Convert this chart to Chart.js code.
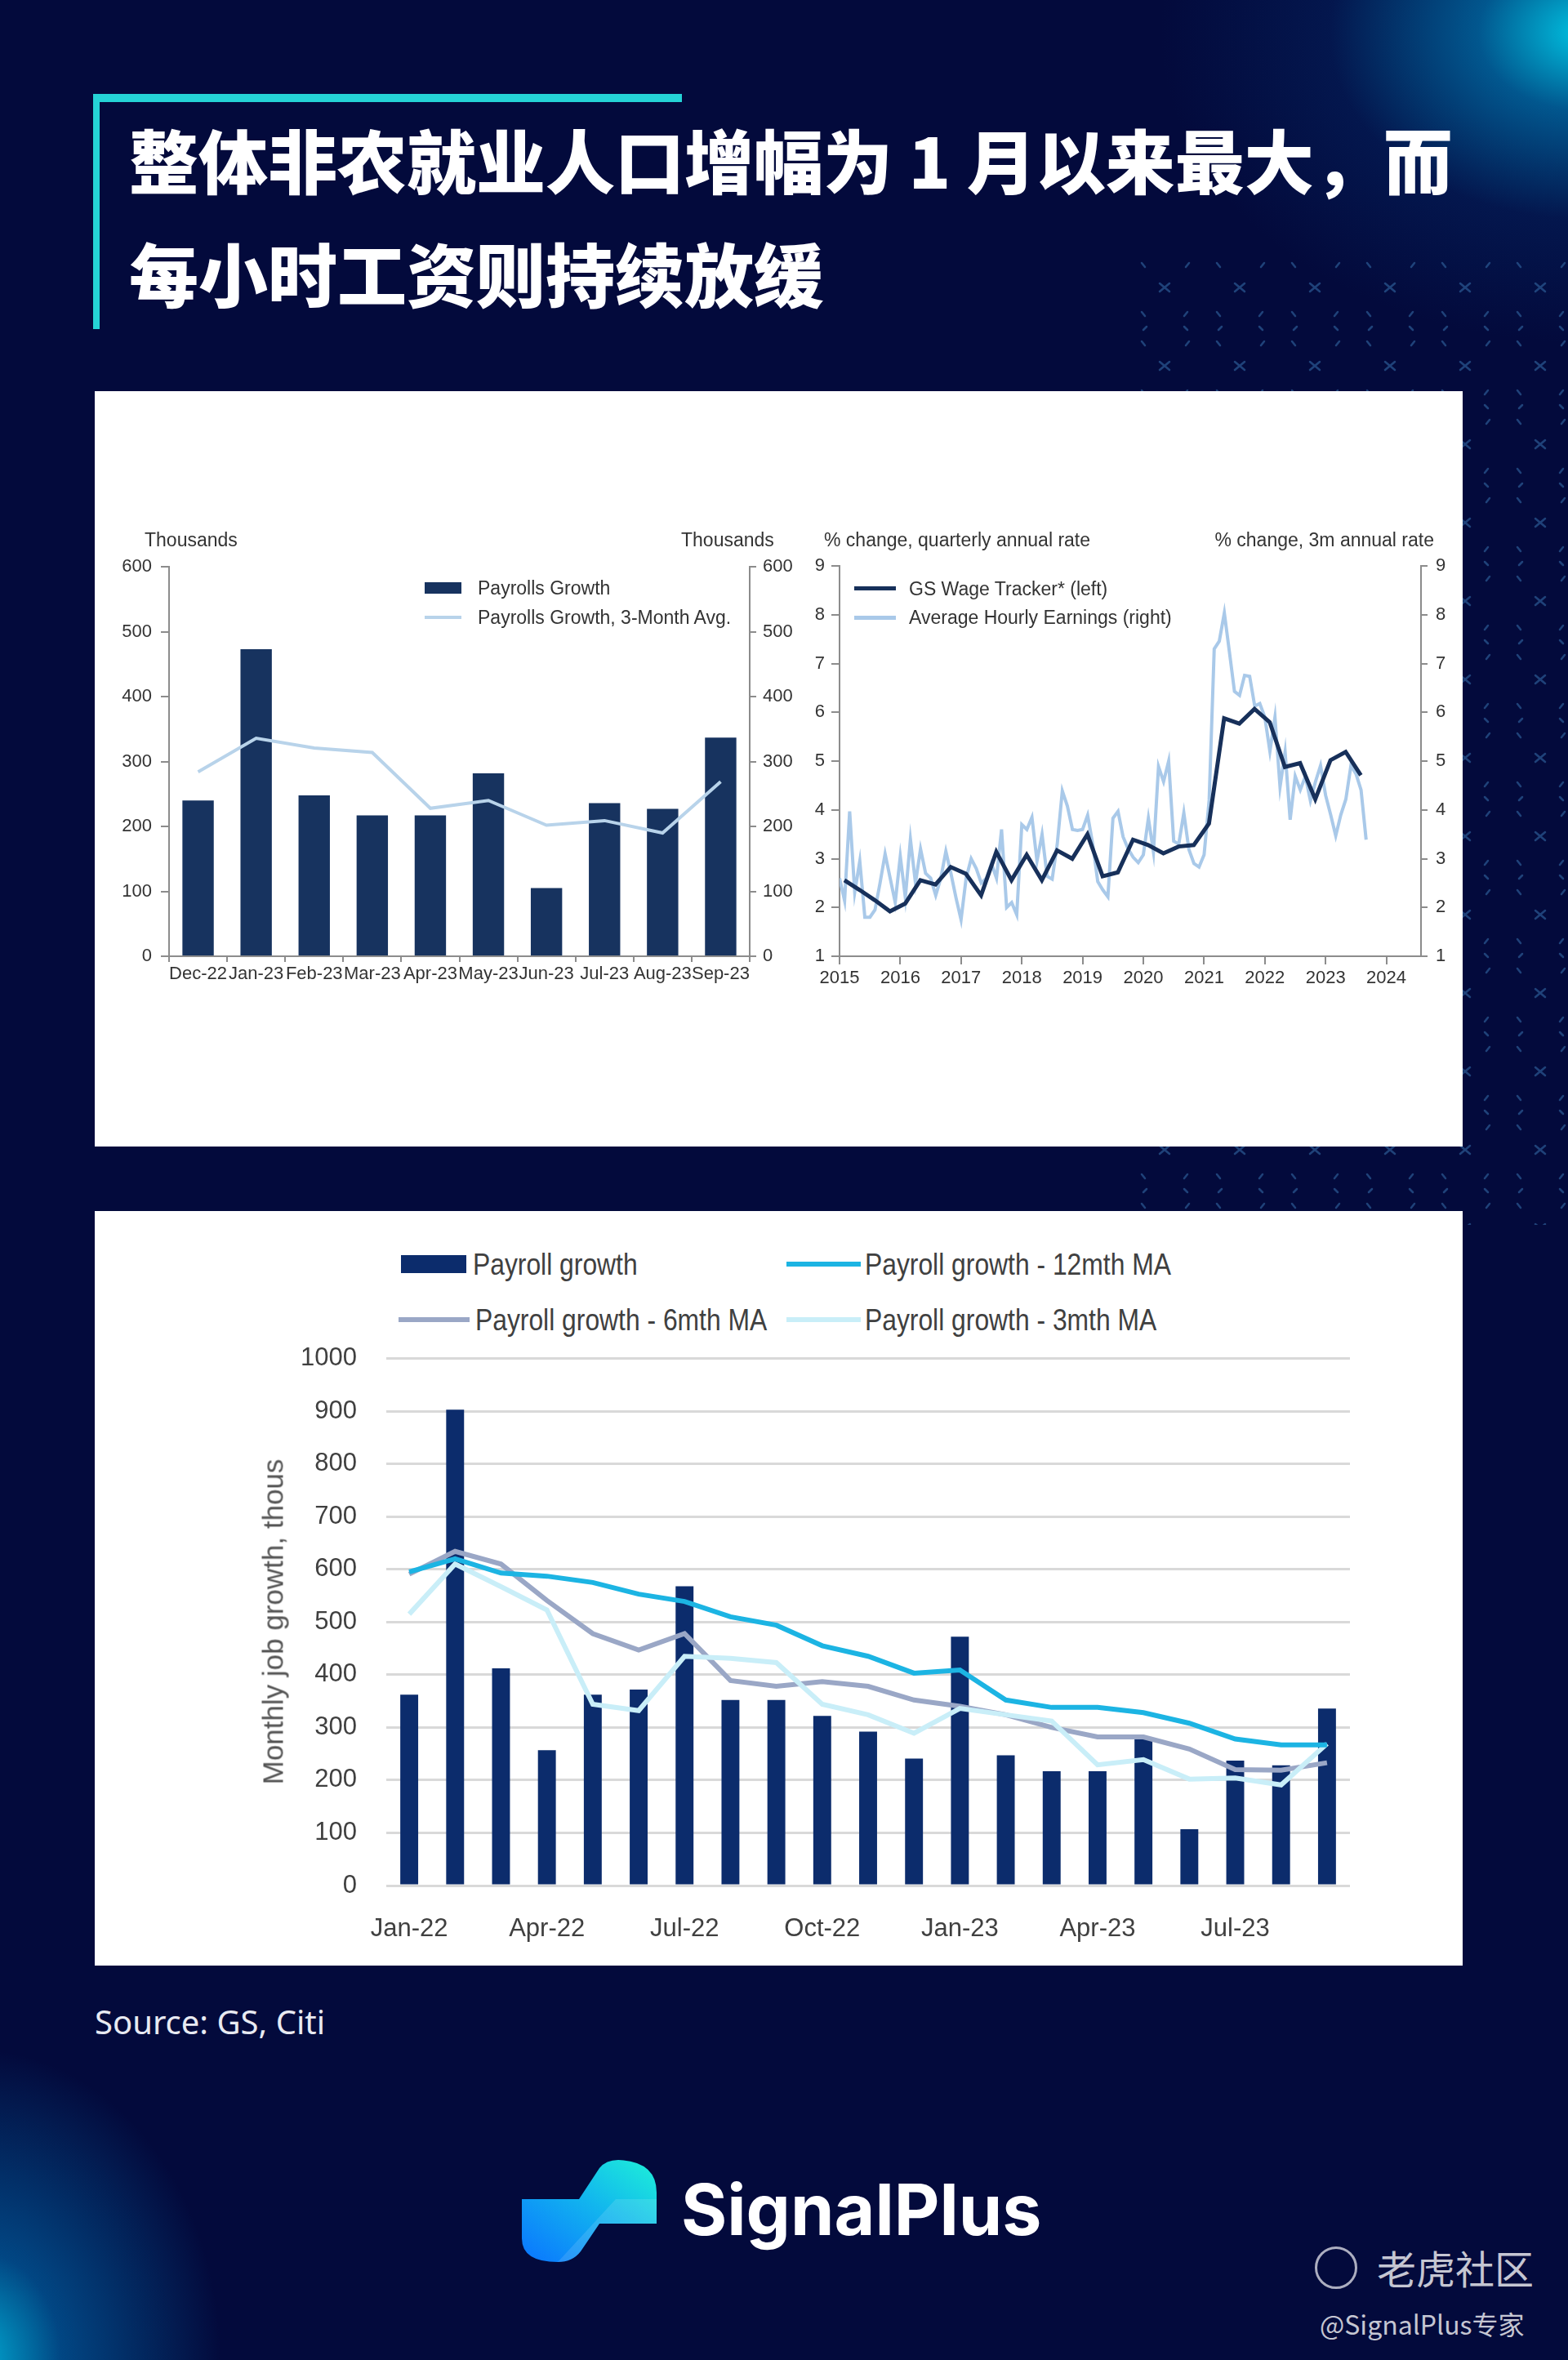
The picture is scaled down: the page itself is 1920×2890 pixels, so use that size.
<!DOCTYPE html>
<html>
<head>
<meta charset="utf-8">
<script src="https://cdn.jsdelivr.net/npm/chart.js"></script>
<style>
  html, body { margin: 0; padding: 0; }
  body {
    width: 1920px; height: 2890px; overflow: hidden; position: relative;
    background: #030a3c;
    font-family: "Liberation Sans", Arial, sans-serif;
  }
  .abs { position: absolute; white-space: nowrap; }
  .glow-tr {
    left: 1300px; top: 0; width: 620px; height: 700px;
    background: radial-gradient(ellipse 520px 380px at 640px 40px, rgba(0,205,235,0.95) 0%, rgba(0,150,210,0.55) 25%, rgba(5,60,130,0.25) 60%, rgba(3,10,60,0) 100%);
  }
  .glow-bl {
    left: 0; top: 2450px; width: 500px; height: 440px;
    background: radial-gradient(ellipse 300px 380px at -30px 440px, rgba(0,180,220,0.95) 0%, rgba(0,120,190,0.55) 35%, rgba(3,10,60,0) 100%);
  }
  .pattern {
    left: 1380px; top: 320px; width: 540px; height: 1180px;
    background-image: url("data:image/svg+xml;utf8,<svg xmlns='http://www.w3.org/2000/svg' width='92' height='96'><g stroke='%232a5a94' stroke-width='2.5' stroke-linecap='round' opacity='0.7'><path d='M40 27 L52 37 M52 27 L40 37'/><path d='M18 2 L22 7 M72 7 L76 2 M18 62 L22 67 M70 67 L74 62 M20 84 L24 80 M70 80 L74 84'/></g></svg>");
  }
  .panel { background: #ffffff; }
  canvas { position: absolute; }
  .t1 { font-size: 23px; color: #333; line-height: 23px; }
  .leg1 { font-size: 23px; color: #333; line-height: 23px; }
  .leg3 { font-size: 37px; color: #404040; line-height: 37px; transform: scaleX(0.86); transform-origin: left center; }
  .title { font-family: 'Noto Sans CJK SC', sans-serif; font-weight: 900; font-size: 85px; line-height: 90px; color: #fff; }
</style>
</head>
<body>
<div class="abs glow-tr"></div>
<div class="abs glow-bl"></div>
<div class="abs pattern"></div>

<!-- title -->
<div class="abs" style="left:114px;top:115px;width:721px;height:10px;background:#25d3d6;"></div>
<div class="abs" style="left:114px;top:115px;width:8px;height:288px;background:#25d3d6;"></div>
<div class="abs title" style="left:158px;top:149px;">整体非农就业人口增幅为 1 月以来最大，而</div>
<div class="abs title" style="left:158px;top:288px;">每小时工资则持续放缓</div>

<!-- panel 1 -->
<div class="abs panel" style="left:116px;top:479px;width:1675px;height:925px;"></div>
<canvas id="payrollsChart" width="855" height="550" style="left:120px;top:670px;"></canvas>
<canvas id="wageChart" width="810" height="550" style="left:975px;top:670px;"></canvas>

<div class="abs t1" style="left:177px;top:650px;">Thousands</div>
<div class="abs t1" style="left:834px;top:650px;">Thousands</div>
<div class="abs t1" style="left:1009px;top:650px;">% change, quarterly annual rate</div>
<div class="abs t1" style="right:164px;top:650px;">% change, 3m annual rate</div>

<div class="abs" style="left:520px;top:713px;width:45px;height:14px;background:#17335f;"></div>
<div class="abs leg1" style="left:585px;top:709px;">Payrolls Growth</div>
<div class="abs" style="left:520px;top:754px;width:45px;height:4px;background:#b8d3ea;"></div>
<div class="abs leg1" style="left:585px;top:745px;">Payrolls Growth, 3-Month Avg.</div>

<div class="abs" style="left:1046px;top:718px;width:51px;height:5px;background:#17305a;"></div>
<div class="abs leg1" style="left:1113px;top:710px;">GS Wage Tracker* (left)</div>
<div class="abs" style="left:1046px;top:754px;width:51px;height:5px;background:#a9c9e9;"></div>
<div class="abs leg1" style="left:1113px;top:745px;">Average Hourly Earnings (right)</div>

<!-- panel 2 -->
<div class="abs panel" style="left:116px;top:1483px;width:1675px;height:924px;"></div>
<canvas id="jobsChart" width="1420" height="755" style="left:280px;top:1645px;"></canvas>

<div class="abs" style="left:491px;top:1537px;width:80px;height:22px;background:#0c2c6c;"></div>
<div class="abs leg3" style="left:579px;top:1530px;">Payroll growth</div>
<div class="abs" style="left:963px;top:1545px;width:91px;height:6px;background:#1cb4e3;"></div>
<div class="abs leg3" style="left:1059px;top:1530px;">Payroll growth - 12mth MA</div>
<div class="abs" style="left:488px;top:1613px;width:87px;height:6px;background:#9aa7c6;"></div>
<div class="abs leg3" style="left:582px;top:1598px;">Payroll growth - 6mth MA</div>
<div class="abs" style="left:963px;top:1613px;width:91px;height:6px;background:#c9eef8;"></div>
<div class="abs leg3" style="left:1059px;top:1598px;">Payroll growth - 3mth MA</div>

<div class="abs" style="left:334px;top:1986px;transform:translate(-50%,-50%) rotate(-90deg);color:#555;font-size:35px;line-height:35px;">Monthly job growth, thous</div>

<!-- footer -->
<div class="abs" style="left:116px;top:2455px;font-family:'Noto Sans',sans-serif;font-size:40px;line-height:42px;color:#e8eaf2;">Source: GS, Citi</div>

<svg class="abs" style="left:639px;top:2645px;" width="166" height="126" viewBox="0 0 166 126">
  <defs>
    <linearGradient id="lg1" x1="0" y1="1" x2="1" y2="0">
      <stop offset="0" stop-color="#0a74ff"/>
      <stop offset="0.55" stop-color="#12b6ee"/>
      <stop offset="1" stop-color="#1ef0d8"/>
    </linearGradient>
  </defs>
  <path d="M0 48 H70 L95 10 Q103 0 118 0 Q165 2 165 40 V78 H95 L72 112 Q62 125 44 125 Q0 125 0 96 Z" fill="url(#lg1)"/>
  <path d="M44 125 Q62 125 72 112 L95 78 H165 V48 H115 Z" fill="#ffffff" opacity="0.12"/>
</svg>
<div class="abs" style="left:834px;top:2656px;font-family:Inter,sans-serif;font-weight:700;font-size:86px;line-height:100px;color:#fff;">SignalPlus</div>

<div class="abs" style="left:1610px;top:2751px;width:46px;height:46px;border:3px solid rgba(215,215,225,0.8);border-radius:50%;"></div>
<div class="abs" style="left:1686px;top:2748px;font-family:'Noto Sans CJK SC',sans-serif;font-size:48px;line-height:56px;color:rgba(225,225,232,0.88);">老虎社区</div>
<div class="abs" style="left:1616px;top:2826px;font-family:'Noto Sans CJK SC',sans-serif;font-size:32px;line-height:38px;color:rgba(225,225,232,0.88);">@SignalPlus专家</div>

<script>
// panel 1 left: payrolls
const leftMonths = ['Dec-22', 'Jan-23', 'Feb-23', 'Mar-23', 'Apr-23', 'May-23', 'Jun-23', 'Jul-23', 'Aug-23', 'Sep-23'];
const payrolls = [240, 473, 248, 217, 217, 282, 105, 236, 227, 337];
const payrolls3m = [284, 336, 321, 314, 228, 240, 202, 209, 190, 269];

// panel 1 right: wages (x as decimal years)
const gsFirstQuarter = 2015.08;
const gsWageTracker = [2.56, 2.36, 2.15, 1.92, 2.08, 2.56, 2.47, 2.83, 2.69, 2.25, 3.14, 2.56,
    3.08, 2.56, 3.17, 3.0, 3.5, 2.64, 2.72, 3.39, 3.28, 3.11, 3.25, 3.28,
    3.72, 5.88, 5.77, 6.07, 5.8, 4.88, 4.96, 4.22, 5.02, 5.19, 4.71];
const aheFirstMonth = 2015.0;
const avgHourlyEarnings = [
    2.6, 2.14, 3.97, 2.31, 2.95, 1.8, 1.8, 1.95, 2.5, 3.1, 2.6, 2.1,
    3.05, 2.2, 3.4, 2.5, 3.2, 2.7, 2.6, 2.25, 2.6, 3.15, 2.7, 2.2,
    1.75, 2.6, 3.0, 2.8, 2.5, 2.6, 2.9, 2.6, 3.6, 2.0, 2.1, 1.85,
    3.7, 3.6, 3.85, 2.95, 3.5, 2.64, 2.58, 3.3, 4.39, 4.08, 3.6, 3.58,
    3.6, 3.89, 3.3, 2.53, 2.36, 2.22, 3.83, 3.97, 3.45, 3.2, 3.03, 2.92,
    3.08, 3.83, 3.14, 4.89, 4.58, 5.0, 3.36, 3.3, 3.94, 3.19, 2.9, 2.83,
    3.08, 4.2, 7.3, 7.46, 8.04, 7.24, 6.43, 6.35, 6.76, 6.74, 6.13, 6.18,
    5.9, 5.2, 5.9, 4.47, 5.19, 3.8, 4.69, 4.41, 4.69, 4.19, 4.58, 4.91,
    4.3, 3.9, 3.47, 3.9, 4.22, 4.91, 4.74, 4.41, 3.39];

// panel 2: monthly job growth
const jobMonths = ['Jan-22', 'Feb-22', 'Mar-22', 'Apr-22', 'May-22', 'Jun-22', 'Jul-22', 'Aug-22', 'Sep-22', 'Oct-22', 'Nov-22', 'Dec-22',
    'Jan-23', 'Feb-23', 'Mar-23', 'Apr-23', 'May-23', 'Jun-23', 'Jul-23', 'Aug-23', 'Sep-23'];
const payrollGrowth = [362, 903, 412, 257, 362, 372, 568, 352, 352, 322, 292, 241, 472, 247, 217, 217, 279, 107, 237, 228, 336];
const payroll12m = [595, 620, 593, 587, 575, 553, 539, 510, 494, 455, 435, 403, 409, 352, 338, 338, 328, 308, 278, 267, 267];
const payroll6m = [591, 634, 610, 541, 478, 447, 478, 389, 378, 387, 378, 352, 340, 324, 300, 282, 282, 259, 220, 219, 233];
const payroll3m = [515, 610, 567, 523, 344, 332, 435, 431, 423, 344, 324, 289, 336, 324, 312, 229, 239, 202, 204, 191, 269];

Chart.defaults.animation = false;
Chart.defaults.responsive = false;
Chart.defaults.plugins.legend.display = false;
Chart.defaults.plugins.tooltip.enabled = false;

const axisGray = '#8c8c8c';
const font1 = { family: "'Liberation Sans', Arial, sans-serif", size: 22 };
const font3 = { family: "'Liberation Sans', Arial, sans-serif", size: 31 };

const fixWidth = w => scale => { scale.width = w; };
const fixHeight = h => scale => { scale.height = h; };

const sideAxis = (pos, min, max, step, width, pad, tl) => ({
    position: pos, min: min, max: max,
    ticks: { stepSize: step, font: font1, color: '#333', padding: pad },
    grid: { drawOnChartArea: false, color: axisGray, lineWidth: 2, tickLength: tl },
    border: { color: axisGray, width: 2 },
    afterFit: fixWidth(width)
});

new Chart(document.getElementById('payrollsChart'), {
    type: 'bar',
    data: {
        labels: leftMonths,
        datasets: [{
            type: 'line',
            data: payrolls3m,
            borderColor: '#b8d3ea',
            borderWidth: 4,
            pointRadius: 0,
            tension: 0,
            yAxisID: 'y',
            order: 1
        }, {
            data: payrolls,
            backgroundColor: '#17335f',
            categoryPercentage: 1,
            barPercentage: 0.54,
            yAxisID: 'y',
            order: 2
        }]
    },
    options: {
        layout: { padding: { top: 21, left: 0, right: 0, bottom: 0 } },
        scales: {
            x: {
                ticks: { font: font1, color: '#333', padding: 2, maxRotation: 0, autoSkip: false },
                grid: { drawOnChartArea: false, color: axisGray, lineWidth: 2, tickLength: 7 },
                border: { color: axisGray, width: 2 },
                afterFit: fixHeight(49)
            },
            y: sideAxis('left', 0, 600, 100, 87, 11, 10),
            y1: sideAxis('right', 0, 600, 100, 57, 8, 8)
        }
    }
});

const gsPoints = gsWageTracker.map((v, i) => ({ x: gsFirstQuarter + i * 0.25, y: v }));
const ahePoints = avgHourlyEarnings.map((v, i) => ({ x: aheFirstMonth + i / 12, y: v }));

new Chart(document.getElementById('wageChart'), {
    type: 'line',
    data: {
        datasets: [{
            data: gsPoints,
            borderColor: '#17305a',
            borderWidth: 5,
            pointRadius: 0,
            yAxisID: 'y',
            order: 1
        }, {
            data: ahePoints,
            borderColor: '#a9c9e9',
            borderWidth: 4,
            pointRadius: 0,
            yAxisID: 'y2',
            order: 2
        }]
    },
    options: {
        layout: { padding: { top: 22, left: 0, right: 0, bottom: 0 } },
        scales: {
            x: {
                type: 'linear', min: 2015, max: 2024.57,
                ticks: { stepSize: 1, includeBounds: false, autoSkip: false, maxRotation: 0, font: font1, color: '#333', padding: 4, callback: v => v },
                afterBuildTicks: scale => { scale.ticks = scale.ticks.filter(t => Number.isInteger(t.value)); },
                grid: { drawOnChartArea: false, color: axisGray, lineWidth: 2, tickLength: 10 },
                border: { color: axisGray, width: 2 },
                afterFit: fixHeight(49)
            },
            y: sideAxis('left', 1, 9, 1, 53, 8, 10),
            y2: sideAxis('right', 1, 9, 1, 45, 10, 8)
        }
    }
});

const maLine = (values, color, order) => ({
    type: 'line',
    data: values,
    borderColor: color,
    borderWidth: 6,
    pointRadius: 0,
    tension: 0,
    order: order
});

new Chart(document.getElementById('jobsChart'), {
    type: 'bar',
    data: {
        labels: jobMonths,
        datasets: [
            maLine(payroll12m, '#1cb4e3', 1),
            maLine(payroll3m, '#c9eef8', 2),
            maLine(payroll6m, '#9aa7c6', 3),
            {
                data: payrollGrowth,
                backgroundColor: '#0c2c6c',
                categoryPercentage: 1,
                barPercentage: 0.39,
                order: 4
            }
        ]
    },
    options: {
        layout: { padding: { top: 18, left: 0, right: 47, bottom: 0 } },
        scales: {
            x: {
                ticks: {
                    font: font3, color: '#404040', padding: 27, maxRotation: 0, autoSkip: false,
                    callback: (v, i) => (i % 3 === 0 ? jobMonths[i] : '')
                },
                grid: { display: false },
                border: { display: false },
                afterFit: fixHeight(91)
            },
            y: {
                min: 0, max: 1000,
                ticks: { stepSize: 100, font: font3, color: '#404040', padding: 0, callback: v => String(v) },
                grid: { color: '#d9d9d9', lineWidth: 3, drawTicks: true, tickLength: 36, tickColor: 'rgba(0,0,0,0)' },
                border: { display: false },
                afterFit: fixWidth(193)
            }
        }
    }
});
</script>
</body>
</html>
